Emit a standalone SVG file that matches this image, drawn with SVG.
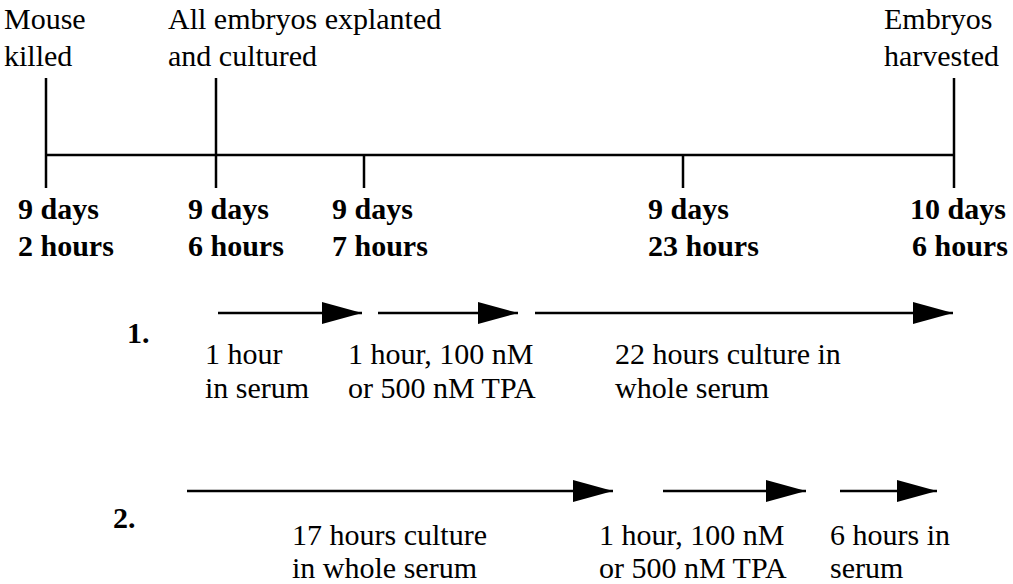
<svg xmlns="http://www.w3.org/2000/svg" width="1013" height="584" viewBox="0 0 1013 584" font-family="Liberation Serif, Times New Roman, Tinos, Noto Serif, DejaVu Serif, serif" font-size="30">
<style>
.b{font-weight:bold}
.ln{stroke:#000;stroke-width:2.5;fill:none}
.ar{stroke:#000;stroke-width:2.5;fill:none;marker-end:url(#ah)}
</style>
<defs>
<marker id="ah" markerUnits="userSpaceOnUse" markerWidth="42" markerHeight="24" refX="40" refY="11" orient="auto">
<path d="M0,0 L40,11 L0,22 Z" fill="#000"/>
</marker>
</defs>
<rect width="1013" height="584" fill="#fff"/>
<g id="timeline">
<line class="ln" x1="46" y1="155" x2="954" y2="155"/>
</g>
<g id="t1">
<line class="ln" x1="46" y1="78" x2="46" y2="188"/>
<text x="4" y="29">Mouse</text>
<text x="4" y="66">killed</text>
<text class="b" x="18" y="219">9 days</text>
<text class="b" x="18" y="256">2 hours</text>
</g>
<g id="t2">
<line class="ln" x1="216" y1="78" x2="216" y2="188"/>
<text x="168" y="29">All embryos explanted</text>
<text x="168" y="66">and cultured</text>
<text class="b" x="188" y="219">9 days</text>
<text class="b" x="188" y="256">6 hours</text>
</g>
<g id="t3">
<line class="ln" x1="364" y1="155" x2="364" y2="188"/>
<text class="b" x="332" y="219">9 days</text>
<text class="b" x="332" y="256">7 hours</text>
</g>
<g id="t4">
<line class="ln" x1="683" y1="155" x2="683" y2="188"/>
<text class="b" x="648" y="219">9 days</text>
<text class="b" x="648" y="256">23 hours</text>
</g>
<g id="t5">
<line class="ln" x1="954" y1="78" x2="954" y2="188"/>
<text x="884" y="29">Embryos</text>
<text x="884" y="66">harvested</text>
<text class="b" x="910" y="219">10 days</text>
<text class="b" x="912" y="256">6 hours</text>
</g>
<g id="row1">
<text class="b" x="127" y="343">1.</text>
<text x="205" y="364">1 hour</text>
<text x="205" y="398">in serum</text>
<text x="348" y="364">1 hour, 100 nM</text>
<text x="348" y="398">or 500 nM TPA</text>
<text x="615" y="364">22 hours culture in</text>
<text x="615" y="398">whole serum</text>
</g>
<g id="row2">
<text class="b" x="113" y="528">2.</text>
<text x="292" y="545">17 hours culture</text>
<text x="292" y="578">in whole serum</text>
<text x="599" y="545">1 hour, 100 nM</text>
<text x="599" y="578">or 500 nM TPA</text>
<text x="830" y="545">6 hours in</text>
<text x="830" y="578">serum</text>
</g>
<g id="connectors">
<line class="ar" x1="218" y1="313" x2="362" y2="313"/>
<line class="ar" x1="378" y1="313" x2="518" y2="313"/>
<line class="ar" x1="535" y1="313" x2="953" y2="313"/>
<line class="ar" x1="187" y1="491" x2="613" y2="491"/>
<line class="ar" x1="663" y1="491" x2="806" y2="491"/>
<line class="ar" x1="840" y1="491" x2="937" y2="491"/>
</g>
</svg>
